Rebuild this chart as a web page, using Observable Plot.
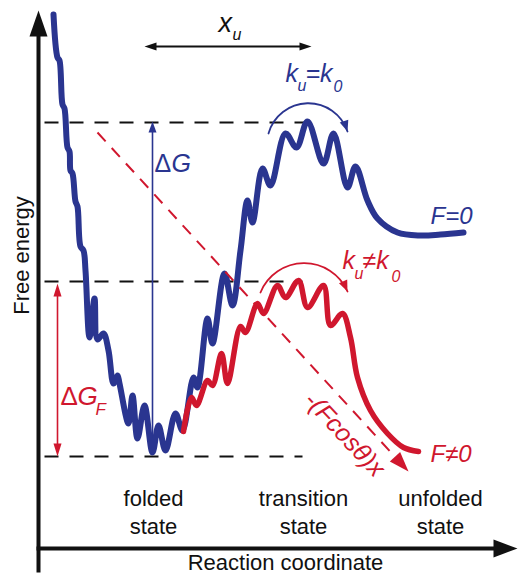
<!DOCTYPE html>
<html><head><meta charset="utf-8">
<script src="https://cdn.jsdelivr.net/npm/d3@7"></script>
<script src="https://cdn.jsdelivr.net/npm/@observablehq/plot@0.6"></script>
<style>body{margin:0;background:#fff}</style>
</head><body><div id="chart"></div>
<script>
const BLUE = "#2a3590", RED = "#d0172e", INK = "#111";

// Schematic coordinates: x = reaction coordinate, y = free energy (screen-down units)
const blueCurve = [[53,14],[57,57],[59,60],[62,104],[64,108],[67,147],[69,151],[70,170],[72,173],[75,201],[77,206],[80,246],[83,250],[85,270],[89,337],[94,298],[97,339],[103,333],[108,350],[113,383],[117,375],[119,383],[128,423],[132,395],[137,438],[144,405],[152,452],[158,425],[165,450],[175,413],[182,430],[193,377],[197,387],[207,318],[212,343],[224,273],[232,305],[240,250],[247,200],[252,222],[262,168],[270,185],[285,133],[296,147],[307,121],[323,163],[333,133],[347,187],[355,166],[367,200],[377,218],[397,232],[420,235],[440,234],[463,232]];
const redCurve = [[183,431],[191,397],[196,405],[207,380],[212,385],[221,353],[227,383],[240,326],[245,332],[257,303],[263,313],[277,285],[285,297],[298,280],[307,307],[323,285],[330,325],[342,313],[350,337],[357,377],[370,410],[387,433],[403,447],[418,451]];

const dashedLevels = [122, 281, 456];
const dashedStart = [44, 44, 44];
const dashedEnd = [305, 302, 302];

const forceLine = {x1: 97, y1: 132, x2: 408, y2: 471};
const deltaG = {x: 152, y1: 452, y2: 121};
const deltaGF = {x: 57, y1: 456, y2: 283};
const xu = {y: 46, x1: 144, x2: 311};
const arcBlue = {x1: 268, y1: 133, x2: 347, y2: 131, bend: 73, color: BLUE};
const arcRed = {x1: 260, y1: 292, x2: 347, y2: 291, bend: 67, color: RED};
const axisX = {y: 548, x1: 36, x2: 517};
const axisY = {x: 38, y1: 572, y2: 10};

const stateLabels = ["folded","state","transition","state","unfolded","state"];
const stateX = [153, 153, 303, 303, 440, 440];
const stateY = [498, 526, 498, 526, 498, 526];

const labels = [
  {t:"Reaction coordinate", x:285, y:562, s:22, c:INK, it:false, a:"middle", r:0},
  {t:"Free energy", x:21, y:255, s:22, c:INK, it:false, a:"middle", r:-90},
  {t:"x", x:218, y:23, s:27, c:INK, it:true, a:"start", r:0},
  {t:"u", x:232, y:34, s:16, c:INK, it:true, a:"start", r:0},
  {t:"k", x:285, y:73, s:25, c:BLUE, it:true, a:"start", r:0},
  {t:"u", x:297, y:85, s:16, c:BLUE, it:true, a:"start", r:0},
  {t:"=k", x:305, y:73, s:25, c:BLUE, it:true, a:"start", r:0},
  {t:"0", x:333, y:86, s:16, c:BLUE, it:true, a:"start", r:0},
  {t:"k", x:342, y:260, s:25, c:RED, it:true, a:"start", r:0},
  {t:"u", x:354, y:273, s:16, c:RED, it:true, a:"start", r:0},
  {t:"≠k", x:362, y:260, s:25, c:RED, it:true, a:"start", r:0},
  {t:"0", x:391, y:276, s:16, c:RED, it:true, a:"start", r:0},
  {t:"Δ", x:154, y:163, s:25, c:BLUE, it:false, a:"start", r:0},
  {t:"G", x:171, y:163, s:25, c:BLUE, it:true, a:"start", r:0},
  {t:"Δ", x:60, y:396, s:26, c:RED, it:false, a:"start", r:0},
  {t:"G", x:77, y:396, s:26, c:RED, it:true, a:"start", r:0},
  {t:"F", x:95, y:409, s:17, c:RED, it:true, a:"start", r:0},
  {t:"F=0", x:430, y:216, s:24, c:BLUE, it:true, a:"start", r:0},
  {t:"F≠0", x:430, y:454, s:24, c:RED, it:true, a:"start", r:0},
  {t:"-(Fcosθ)x", x:344, y:434, s:25, c:RED, it:true, a:"middle", r:47}
];

function tri(tip, ang, len, hw, id, color) {
  const [x, y] = tip, c = Math.cos(ang), s = Math.sin(ang);
  const bx = x - len * c, by = y - len * s;
  return [
    {id, color, x, y},
    {id, color, x: bx - hw * s, y: by + hw * c},
    {id, color, x: bx + hw * s, y: by - hw * c},
    {id, color, x, y}
  ];
}
const fAng = Math.atan2(forceLine.y2 - forceLine.y1, forceLine.x2 - forceLine.x1);
const arcHead = (a, id) => tri([a.x2, a.y2], Math.atan2(a.y2 - a.y1, a.x2 - a.x1) + a.bend * Math.PI / 180, 11, 4.5, id, a.color);
const heads = [
  ...tri([axisY.x, axisY.y2], -Math.PI/2, 26, 9, "ya", INK),
  ...tri([axisX.x2, axisX.y], 0, 24, 9, "xa", INK),
  ...tri([deltaG.x, deltaG.y2], -Math.PI/2, 11, 4, "dg", BLUE),
  ...tri([deltaGF.x, deltaGF.y2], -Math.PI/2, 13, 4, "dgf1", RED),
  ...tri([deltaGF.x, deltaGF.y1], Math.PI/2, 13, 4, "dgf2", RED),
  ...tri([xu.x1, xu.y], Math.PI, 12, 4, "xu1", INK),
  ...tri([xu.x2, xu.y], 0, 12, 4, "xu2", INK),
  ...tri([forceLine.x2, forceLine.y2], fAng, 20, 7, "force", RED),
  ...arcHead(arcBlue, "arcB"),
  ...arcHead(arcRed, "arcR")
];

const dashed = dashedLevels.map((y, i) => ({y, x1: dashedStart[i], x2: dashedEnd[i]}));
const fLen = 18;
const forceShaft = {x1: forceLine.x1, y1: forceLine.y1, x2: forceLine.x2 - fLen * Math.cos(fAng), y2: forceLine.y2 - fLen * Math.sin(fAng)};

const textMark = (filter, it, anchor) => Plot.text(labels.filter(filter), {
  x: "x", y: "y", text: "t", fill: "c", fontSize: "s", rotate: "r",
  fontStyle: it ? "italic" : "normal", textAnchor: anchor, lineAnchor: "middle"
});
const arcMark = (a) => Plot.arrow([a], {x1: "x1", y1: "y1", x2: "x2", y2: "y2", bend: a.bend, stroke: a.color, strokeWidth: 1.8, headLength: 0});

const chart = Plot.plot({
  width: 519, height: 576, margin: 0,
  x: {domain: [0, 519], range: [0, 519], axis: null},
  y: {domain: [0, 576], range: [0, 576], axis: null},
  style: {background: "#fff", fontFamily: "'Liberation Sans', Arial, sans-serif"},
  marks: [
    Plot.link(dashed, {x1: "x1", x2: "x2", y1: "y", y2: "y", stroke: INK, strokeWidth: 2, strokeDasharray: "14,11"}),
    Plot.link([axisY], {x1: "x", x2: "x", y1: "y1", y2: d => d.y2 + 20, stroke: INK, strokeWidth: 4}),
    Plot.link([axisX], {x1: "x1", x2: d => d.x2 - 20, y1: "y", y2: "y", stroke: INK, strokeWidth: 4}),
    Plot.link([deltaG], {x1: "x", x2: "x", y1: "y1", y2: d => d.y2 + 6, stroke: BLUE, strokeWidth: 1.6}),
    Plot.link([deltaGF], {x1: "x", x2: "x", y1: d => d.y1 - 6, y2: d => d.y2 + 6, stroke: RED, strokeWidth: 1.6}),
    Plot.link([xu], {x1: d => d.x1 + 6, x2: d => d.x2 - 6, y1: "y", y2: "y", stroke: INK, strokeWidth: 1.8}),
    Plot.line(blueCurve, {x: d => d[0], y: d => d[1], stroke: BLUE, strokeWidth: 6, curve: "catmull-rom", strokeLinecap: "round", strokeLinejoin: "round"}),
    Plot.line(redCurve, {x: d => d[0], y: d => d[1], stroke: RED, strokeWidth: 5.5, curve: "catmull-rom", strokeLinecap: "round", strokeLinejoin: "round"}),
    Plot.link([forceShaft], {x1: "x1", y1: "y1", x2: "x2", y2: "y2", stroke: RED, strokeWidth: 2, strokeDasharray: "12,9"}),
    arcMark(arcBlue),
    arcMark(arcRed),
    Plot.line(heads, {x: "x", y: "y", z: "id", fill: "color", stroke: "none"}),
    Plot.text(stateLabels, {x: (d, i) => stateX[i], y: (d, i) => stateY[i], text: d => d, fontSize: 22, fill: INK, lineAnchor: "middle"}),
    textMark(d => !d.it && d.a === "middle", false, "middle"),
    textMark(d => !d.it && d.a === "start", false, "start"),
    textMark(d => d.it && d.a === "start", true, "start"),
    textMark(d => d.it && d.a === "middle", true, "middle")
  ]
});
document.getElementById("chart").appendChild(chart);
</script>
</body></html>
